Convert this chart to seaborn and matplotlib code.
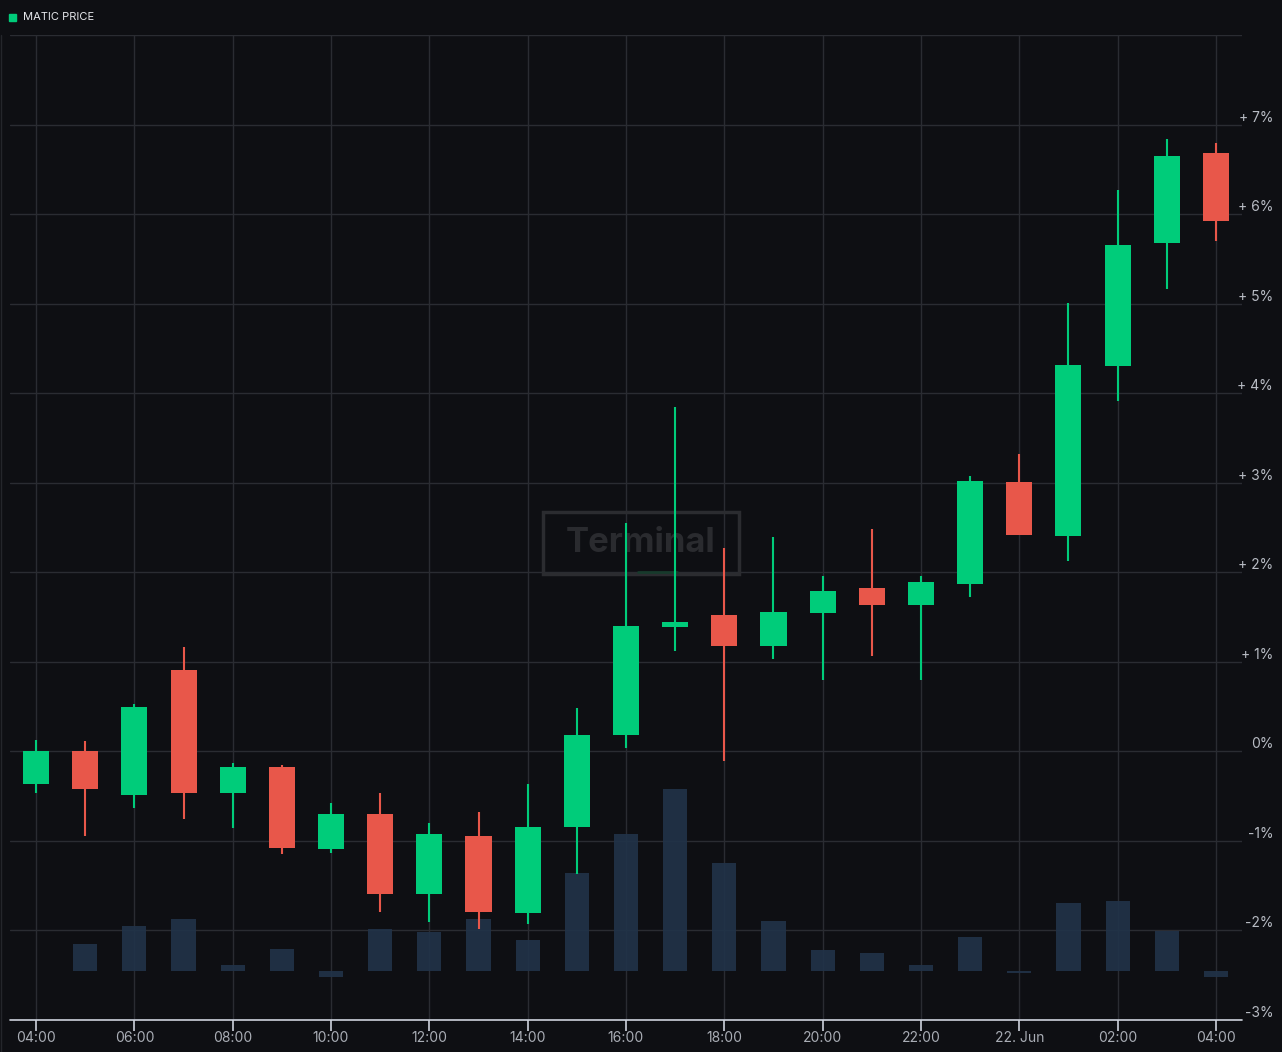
import numpy as np
import matplotlib
matplotlib.use("Agg")
import matplotlib.pyplot as plt
import matplotlib.transforms as mtransforms
from matplotlib.patches import Rectangle
import seaborn as sns

# hourly candles, 21 Jun 04:00 -> 22 Jun 04:00, price change in %
hours = list(range(25))
open_ = [-0.37, 0.00, -0.49, 0.91, -0.46, -0.18, -1.09, -0.70, -1.59, -0.94,
         -1.80, -0.84, 0.18, 1.39, 1.52, 1.18, 1.55, 1.82, 1.64, 1.87,
         3.01, 2.41, 4.30, 5.68, 6.68]
close = [0.00, -0.42, 0.50, -0.46, -0.17, -1.08, -0.70, -1.59, -0.92, -1.79,
         -0.84, 0.18, 1.40, 1.44, 1.18, 1.56, 1.79, 1.64, 1.89, 3.02,
         2.42, 4.32, 5.65, 6.65, 5.92]
high = [0.13, 0.12, 0.53, 1.17, -0.13, -0.15, -0.58, -0.46, -0.80, -0.68,
        -0.37, 0.48, 2.55, 3.85, 2.27, 2.39, 1.96, 2.48, 1.96, 3.08,
        3.32, 5.01, 6.27, 6.84, 6.79]
low = [-0.46, -0.94, -0.63, -0.75, -0.86, -1.15, -1.13, -1.79, -1.90, -1.98,
       -1.93, -1.37, 0.04, 1.12, -0.11, 1.03, 0.80, 1.07, 0.80, 1.72,
       2.42, 2.13, 3.91, 5.16, 5.70]
volume = [0, 27, 45, 52, 6, 22, -6, 42, 39, 52, 31, 98, 137, 182, 108, 50,
          21, 18, 6, 34, -2, 68, 70, 40, -6]

tick_hours = list(range(0, 25, 2))
tick_labels = ["04:00", "06:00", "08:00", "10:00", "12:00", "14:00", "16:00",
               "18:00", "20:00", "22:00", "22. Jun", "02:00", "04:00"]
pct_ticks = list(range(-3, 8))

BG = "#0e0f13"
GRID = "#2a2c32"
GREEN = "#00cc7a"
RED = "#e8574a"
VOL = "#213349"

sns.set_theme(style="dark", rc={"axes.facecolor": BG, "figure.facecolor": BG})
plt.rcParams["font.family"] = ["Inter", "DejaVu Sans"]

fig = plt.figure(figsize=(12.82, 10.52), dpi=100)
ax = fig.add_axes([10 / 1282, 32 / 1052, 1232 / 1282, 985 / 1052])
ax.set_facecolor(BG)

# volume bars (scaled into the price axis, sitting near the bottom)
vol_base = -2.45
vol_scale = 1 / 89.5
vh = [h for h, v in zip(hours, volume) if v != 0]
vv = [v * vol_scale for v in volume if v != 0]
ax.bar(vh, vv, bottom=vol_base, width=0.49, color=VOL, alpha=0.9,
       linewidth=0, zorder=2)

colors = [GREEN if c >= o else RED for o, c in zip(open_, close)]
ax.vlines(hours, low, high, colors=colors, linewidth=1.5, zorder=3)
body_bottom = np.minimum(open_, close)
body_h = np.maximum(np.abs(np.array(close) - np.array(open_)), 0.05)
ax.bar(hours, body_h, bottom=body_bottom, width=0.53, color=colors,
       linewidth=0, zorder=4)

ax.set_xlim(-0.53, 24.53)
ax.set_ylim(-3, 8)

# grid
for x in tick_hours:
    ax.axvline(x, color=GRID, lw=1, zorder=0)
for y in pct_ticks + [8]:
    ax.axhline(y, color=GRID, lw=1, zorder=0)

for s in ax.spines.values():
    s.set_visible(False)
ax.axhline(-3, color="#cdd2dc", lw=1.2, zorder=5, clip_on=False)

ax.set_xticks(tick_hours)
ax.set_xticklabels(tick_labels)
ax.tick_params(axis="x", colors="#cdd2dc", length=8, width=1.2, direction="out",
               labelcolor="#a9adb5", labelsize=10, pad=0, bottom=True)
ax.set_yticks([])

# right-side percentage labels
trans = mtransforms.blended_transform_factory(ax.transAxes, ax.transData)
trans = mtransforms.offset_copy(trans, fig=fig, x=0, y=7, units="dots")
for p in pct_ticks:
    lab = f"+ {p}%" if p > 0 else f"{p}%"
    ax.text(1.0252, p, lab, transform=trans, ha="right", va="center",
            color="#b8bcc4", fontsize=10)

# watermark
wm = Rectangle((0.4326, 0.4528), 0.1591, 0.0629, transform=ax.transAxes,
               fill=False, edgecolor="#2b2c30", lw=2.5, zorder=1)
ax.add_patch(wm)
ax.text(0.5121, 0.4843, "Terminal", transform=ax.transAxes, ha="center",
        va="center", fontsize=25, fontweight="bold", color="#2a2b2f", zorder=1)
ax.plot([0.5097, 0.5414], [0.4548, 0.4548], transform=ax.transAxes,
        color="#173a2c", lw=2, zorder=1)

# legend
fig.patches.append(Rectangle((9 / 1282, 1 - 21 / 1052), 7 / 1282, 7 / 1052,
                             transform=fig.transFigure, color=GREEN))
fig.text(23 / 1282, 1 - 17.5 / 1052, "MATIC PRICE", color="#e6e8ec",
         fontsize=8, va="center", ha="left")
fig.add_artist(plt.Line2D([1 / 1282, 1 / 1282], [0, 1 - 35 / 1052],
                          transform=fig.transFigure, color="#24262b", lw=1))

fig.savefig("out.png", dpi=100, facecolor=BG)
